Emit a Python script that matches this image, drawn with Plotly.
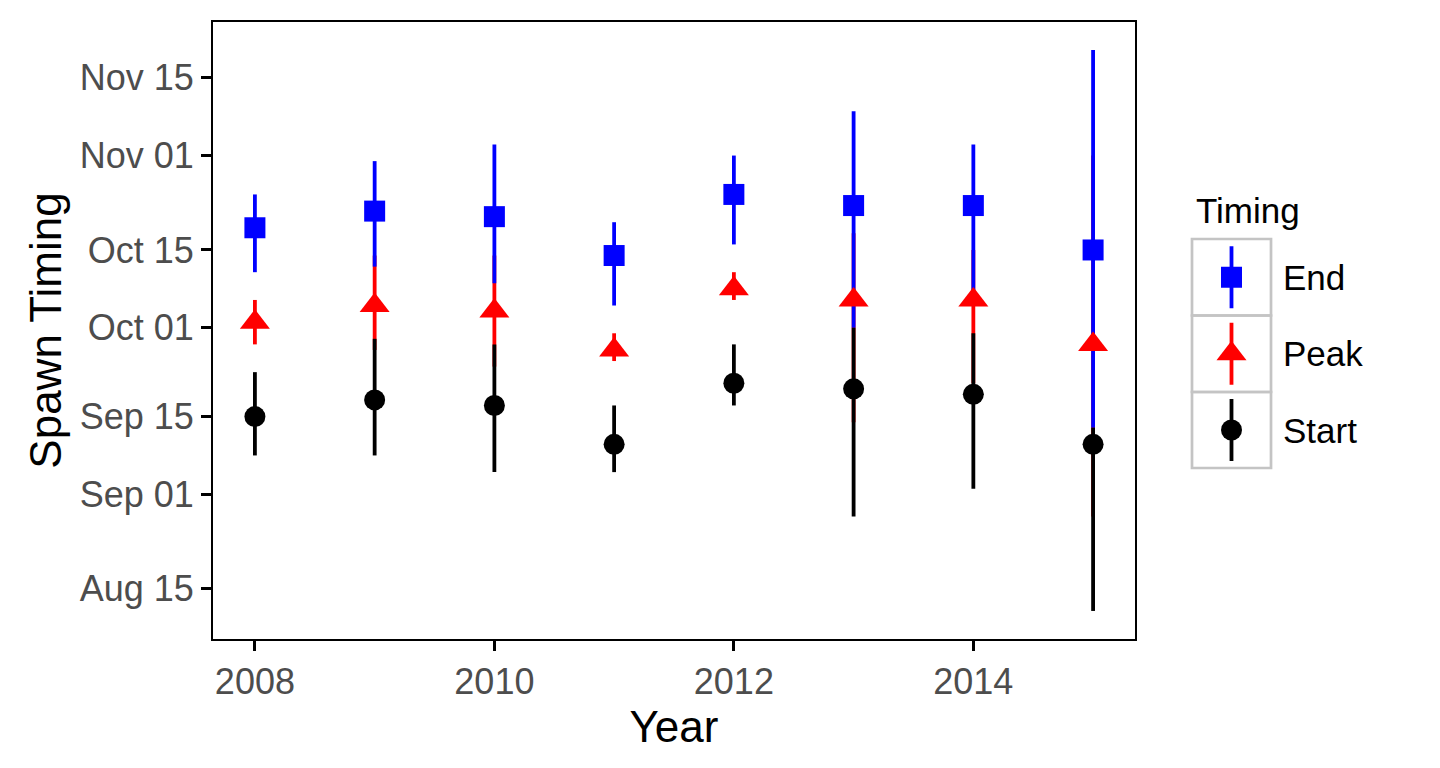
import pandas as pd
import plotly.graph_objects as go

# ---------------- data ----------------
years = [2008, 2009, 2010, 2011, 2012, 2013, 2014, 2015]

end_mid  = ["10-19", "10-22", "10-21", "10-14", "10-25", "10-23", "10-23", "10-15"]
end_low  = ["10-11", "10-12", "10-09", "10-05", "10-16", "10-01", "10-07", "09-13"]
end_high = ["10-25", "10-31", "11-03", "10-20", "11-01", "11-09", "11-03", "11-20"]

peak_mid  = ["10-02", "10-05", "10-04", "09-27", "10-08", "10-06", "10-06", "09-28"]
peak_low  = ["09-28", "09-27", "09-24", "09-25", "10-06", "09-14", "09-21", "08-28"]
peak_high = ["10-06", "10-14", "10-14", "09-30", "10-11", "10-18", "10-15", "11-01"]

start_mid  = ["09-15", "09-18", "09-17", "09-10", "09-21", "09-20", "09-19", "09-10"]
start_low  = ["09-08", "09-08", "09-05", "09-05", "09-17", "08-28", "09-02", "08-11"]
start_high = ["09-23", "09-29", "09-28", "09-17", "09-28", "10-01", "09-30", "09-13"]

y_tick_days = ["08-15", "09-01", "09-15", "10-01", "10-15", "11-01", "11-15"]
x_ticks = [2008, 2010, 2012, 2014]

series_names = ["End", "Peak", "Start"]
# ---------------------------------------------------------------

W, H = 1440, 768
FONT = "Liberation Sans, Arial, Helvetica, sans-serif"
BASE_YEAR = "2000-"


def d(s):
    return pd.Timestamp(BASE_YEAR + s)


def dates(lst):
    return [d(s) for s in lst]


series = {
    "End":   dict(mid=dates(end_mid), low=dates(end_low), high=dates(end_high),
                  color="#0000FF", symbol="square", size=21),
    "Peak":  dict(mid=dates(peak_mid), low=dates(peak_low), high=dates(peak_high),
                  color="#FF0000", symbol="triangle-up", size=26),
    "Start": dict(mid=dates(start_mid), low=dates(start_low), high=dates(start_high),
                  color="#000000", symbol="circle", size=21),
}

# panel in pixels
PL, PR, PT, PB = 213, 1135, 22, 639

# ggplot-like 5% expansion
all_low = min(min(s["low"]) for s in series.values())
all_high = max(max(s["high"]) for s in series.values())
span = all_high - all_low
y_range = [(all_low - 0.05 * span).isoformat(), (all_high + 0.05 * span).isoformat()]
xspan = max(years) - min(years)
x_range = [min(years) - 0.05 * xspan, max(years) + 0.05 * xspan]

fig = go.Figure()

LW = 3.8
# range lines first (Peak underneath, then End, then Start)
for name in ["Peak", "End", "Start"]:
    s = series[name]
    xs, ys = [], []
    for yr, lo, hi in zip(years, s["low"], s["high"]):
        xs += [yr, yr, None]
        ys += [lo, hi, None]
    fig.add_trace(go.Scatter(x=xs, y=ys, mode="lines",
                             line=dict(color=s["color"], width=LW),
                             showlegend=False, hoverinfo="skip",
                             xaxis="x", yaxis="y"))

# points on top
for name in ["Peak", "End", "Start"]:
    s = series[name]
    fig.add_trace(go.Scatter(x=years, y=s["mid"], mode="markers", name=name,
                             marker=dict(color=s["color"], symbol=s["symbol"],
                                         size=s["size"], line=dict(width=0)),
                             showlegend=False, xaxis="x", yaxis="y"))

# ---------------- custom ggplot-style legend (pixel overlay axes) -------------
KX0, KX1 = 1192, 1271
key_edges = [239, 315.5, 392, 468]
KXC = (KX0 + KX1) / 2
for i, name in enumerate(series_names):
    s = series[name]
    cy = (key_edges[i] + key_edges[i + 1]) / 2
    fig.add_shape(type="rect", xref="x2", yref="y2",
                  x0=KX0, x1=KX1, y0=key_edges[i], y1=key_edges[i + 1],
                  line=dict(color="#C4C4C4", width=2.7), fillcolor="rgba(0,0,0,0)",
                  layer="below")
    fig.add_trace(go.Scatter(x=[KXC, KXC], y=[cy - 31, cy + 31], mode="lines",
                             line=dict(color=s["color"], width=LW),
                             showlegend=False, hoverinfo="skip",
                             xaxis="x2", yaxis="y2"))
    fig.add_trace(go.Scatter(x=[KXC], y=[cy], mode="markers",
                             marker=dict(color=s["color"], symbol=s["symbol"],
                                         size=s["size"], line=dict(width=0)),
                             showlegend=False, hoverinfo="skip",
                             xaxis="x2", yaxis="y2"))
    fig.add_annotation(x=1281, y=cy, xref="x2", yref="y2", text=name,
                       showarrow=False, xanchor="left", yanchor="middle",
                       font=dict(family=FONT, size=35, color="#000000"))

fig.add_annotation(x=1194, y=210, xref="x2", yref="y2", text="Timing",
                   showarrow=False, xanchor="left", yanchor="middle",
                   font=dict(family=FONT, size=35, color="#000000"))

axis_common = dict(showgrid=False, zeroline=False, showline=True,
                   linecolor="#000000", linewidth=2, mirror=True,
                   ticks="outside", ticklen=10, tickwidth=3, tickcolor="#000000",
                   tickfont=dict(family=FONT, size=36, color="#4D4D4D"),
                   automargin=False, fixedrange=True)

fig.update_layout(
    width=W, height=H,
    margin=dict(l=0, r=0, t=0, b=0, pad=0),
    paper_bgcolor="white", plot_bgcolor="rgba(0,0,0,0)",
    showlegend=False,
    font=dict(family=FONT),
    xaxis=dict(domain=[PL / W, PR / W], range=x_range,
               tickvals=x_ticks, ticktext=[str(v) for v in x_ticks],
               title=dict(text="Year", font=dict(family=FONT, size=44, color="#000000"),
                          standoff=2),
               anchor="y", **axis_common),
    yaxis=dict(domain=[1 - PB / H, 1 - PT / H], type="date", range=y_range,
               tickvals=[d(t) for t in y_tick_days], tickformat="%b %d",
               title=dict(text="Spawn Timing", font=dict(family=FONT, size=44, color="#000000"),
                          standoff=4),
               anchor="x", **axis_common),
    xaxis2=dict(domain=[0, 1], range=[0, W], visible=False, anchor="y2", fixedrange=True),
    yaxis2=dict(domain=[0, 1], range=[H, 0], visible=False, anchor="x2", fixedrange=True),
)

fig.write_html("out.html")
